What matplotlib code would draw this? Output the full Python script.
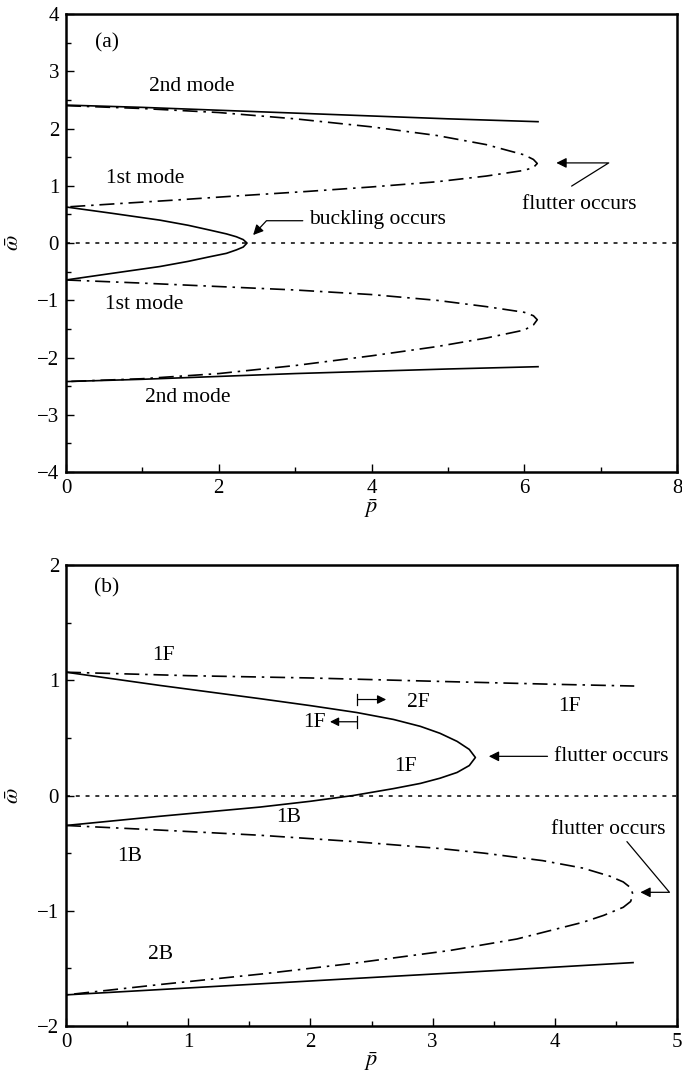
import numpy as np
import matplotlib.pyplot as plt
from matplotlib.ticker import MultipleLocator

plt.rcParams['font.family'] = ['Liberation Serif', 'DejaVu Serif']
plt.rcParams['mathtext.fontset'] = 'stix'

# ---- panel (a): frequency vs load ----
a_mode2_up_p = [0.0, 1.0, 2.0, 3.0, 4.0, 5.0, 6.18]
a_mode2_up_w = [2.41, 2.37, 2.32, 2.27, 2.22, 2.17, 2.12]

a_flut_up_p = [0.0, 1.0, 2.0, 3.0, 4.0, 4.85, 5.5, 6.0, 6.12, 6.17,
               6.12, 6.0, 5.5, 4.85, 4.0, 3.14, 2.2, 1.42, 0.7, 0.0]
a_flut_up_w = [2.40, 2.35, 2.28, 2.17, 2.03, 1.88, 1.72, 1.54, 1.46, 1.39,
               1.32, 1.27, 1.17, 1.07, 0.98, 0.90, 0.82, 0.75, 0.69, 0.63]

a_buck_p = [0.0, 0.6, 1.23, 1.6, 1.88, 2.1, 2.23, 2.32, 2.37,
            2.32, 2.23, 2.1, 1.88, 1.6, 1.23, 0.6, 0.0]
a_buck_w = [0.63, 0.52, 0.40, 0.31, 0.227, 0.16, 0.11, 0.06, 0.0,
            -0.07, -0.12, -0.18, -0.24, -0.32, -0.41, -0.53, -0.645]

a_flut_lo_p = [0.0, 1.0, 2.0, 3.0, 4.0, 4.85, 5.5, 6.0, 6.12, 6.17,
               6.12, 6.0, 5.5, 4.85, 4.0, 3.0, 2.0, 1.0, 0.0]
a_flut_lo_w = [-0.645, -0.70, -0.76, -0.82, -0.90, -1.00, -1.11, -1.21, -1.27, -1.34,
               -1.43, -1.52, -1.66, -1.81, -1.97, -2.14, -2.28, -2.37, -2.42]

a_mode2_lo_p = [0.0, 1.0, 2.0, 3.0, 4.0, 5.0, 6.18]
a_mode2_lo_w = [-2.42, -2.38, -2.33, -2.28, -2.24, -2.20, -2.16]

# ---- panel (b) ----
b_flut_up_p = [0.0, 1.0, 2.0, 3.06, 4.0, 4.65]
b_flut_up_w = [1.07, 1.04, 1.02, 0.99, 0.965, 0.95]

b_loop_p = [0.0, 0.77, 1.59, 2.0, 2.38, 2.68, 2.9, 3.06, 3.2, 3.3, 3.35,
            3.3, 3.2, 3.06, 2.9, 2.68, 2.35, 2.0, 1.59, 0.77, 0.0]
b_loop_w = [1.07, 0.955, 0.84, 0.78, 0.72, 0.66, 0.60, 0.54, 0.47, 0.40, 0.33,
            0.26, 0.20, 0.15, 0.105, 0.06, 0.0, -0.05, -0.10, -0.18, -0.26]

b_flut_lo_p = [0.0, 0.77, 1.59, 2.32, 3.06, 3.42, 3.9, 4.23, 4.45, 4.56, 4.62, 4.64,
               4.62, 4.56, 4.4, 4.23, 3.69, 3.14, 2.32, 1.59, 0.77, 0.0]
b_flut_lo_w = [-0.26, -0.30, -0.345, -0.397, -0.46, -0.50, -0.565, -0.63, -0.70, -0.75, -0.80, -0.86,
               -0.92, -0.97, -1.04, -1.10, -1.245, -1.345, -1.46, -1.55, -1.64, -1.73]

b_mode2_p = [0.0, 1.0, 2.32, 3.5, 4.64]
b_mode2_w = [-1.73, -1.67, -1.59, -1.52, -1.45]

DASHDOT = (0, (9, 3.5, 1.5, 3.5))
DOTTED = (0, (2.6, 3.8))
FS = 15.5
LW = 1.2
ARROW = dict(arrowstyle='-|>', color='k', lw=0.9, mutation_scale=15,
             shrinkA=0, shrinkB=0)


def style_axes(ax, xmax, xmaj, xmin, ymin, ymax, ymaj, yminor):
    ax.set_xlim(0, xmax)
    ax.set_ylim(ymin, ymax)
    ax.xaxis.set_major_locator(MultipleLocator(xmaj))
    ax.xaxis.set_minor_locator(MultipleLocator(xmin))
    ax.yaxis.set_major_locator(MultipleLocator(ymaj))
    ax.yaxis.set_minor_locator(MultipleLocator(yminor))
    ax.tick_params(which='both', direction='in', top=False, right=False,
                   labelsize=15, width=1.0)
    ax.tick_params(which='major', length=6, pad=5)
    ax.tick_params(which='minor', length=3.5)
    for s in ax.spines.values():
        s.set_linewidth(1.8)
    ax.set_xlabel(r'$\bar{p}$', fontsize=16, labelpad=-1)
    ax.set_ylabel(r'$\bar{\omega}$', fontsize=16, labelpad=9)
    ax.axhline(0, color='k', lw=1.1, ls=DOTTED)


def bracket_arrow(ax, x0, x1, y, half=0.05):
    # short vertical stop at x0 with an arrow running to x1
    ax.annotate('', xy=(x1, y), xytext=(x0, y), arrowprops=dict(ARROW, mutation_scale=13))
    ax.plot([x0, x0], [y - half, y + half], color='k', lw=0.9)


fig = plt.figure(figsize=(6.82, 10.74), dpi=100)
ax1 = fig.add_axes([0.0968, 0.5605, 0.8959, 0.4264])
ax2 = fig.add_axes([0.0968, 0.0447, 0.8959, 0.4292])

style_axes(ax1, 8, 2, 1, -4, 4, 1, 0.5)
ax1.plot(a_mode2_up_p, a_mode2_up_w, 'k-', lw=LW)
ax1.plot(a_flut_up_p, a_flut_up_w, color='k', lw=LW, ls=DASHDOT)
ax1.plot(a_buck_p, a_buck_w, 'k-', lw=LW)
ax1.plot(a_flut_lo_p, a_flut_lo_w, color='k', lw=LW, ls=DASHDOT)
ax1.plot(a_mode2_lo_p, a_mode2_lo_w, 'k-', lw=LW)

ax1.text(0.54, 3.49, '(a)', fontsize=FS, ha='center', va='center')
ax1.text(1.65, 2.73, '2nd mode', fontsize=FS, ha='center', va='center')
ax1.text(1.04, 1.12, '1st mode', fontsize=FS, ha='center', va='center')
ax1.text(1.02, -1.08, '1st mode', fontsize=FS, ha='center', va='center')
ax1.text(1.59, -2.69, '2nd mode', fontsize=FS, ha='center', va='center')
ax1.text(4.08, 0.42, 'buckling occurs', fontsize=FS, ha='center', va='center')
ax1.annotate('', xy=(2.45, 0.14), xytext=(3.10, 0.39),
             arrowprops=dict(ARROW, connectionstyle='angle,angleA=180,angleB=47,rad=0'))
ax1.text(6.72, 0.67, 'flutter occurs', fontsize=FS, ha='center', va='center')
ax1.annotate('', xy=(6.42, 1.40), xytext=(6.62, 0.995),
             arrowprops=dict(ARROW, connectionstyle='angle,angleA=32,angleB=0,rad=0'))

style_axes(ax2, 5, 1, 0.5, -2, 2, 1, 0.5)
ax2.plot(b_flut_up_p, b_flut_up_w, color='k', lw=LW, ls=DASHDOT)
ax2.plot(b_loop_p, b_loop_w, 'k-', lw=LW)
ax2.plot(b_flut_lo_p, b_flut_lo_w, color='k', lw=LW, ls=DASHDOT)
ax2.plot(b_mode2_p, b_mode2_w, 'k-', lw=LW)

ax2.text(0.335, 1.80, '(b)', fontsize=FS, ha='center', va='center')
ax2.text(0.80, 1.215, '1F', fontsize=FS, ha='center', va='center')
ax2.text(2.88, 0.807, '2F', fontsize=FS, ha='center', va='center')
ax2.text(4.12, 0.77, '1F', fontsize=FS, ha='center', va='center')
ax2.text(2.03, 0.633, '1F', fontsize=FS, ha='center', va='center')
ax2.text(2.78, 0.25, '1F', fontsize=FS, ha='center', va='center')
ax2.text(1.82, -0.19, '1B', fontsize=FS, ha='center', va='center')
ax2.text(0.52, -0.53, '1B', fontsize=FS, ha='center', va='center')
ax2.text(0.77, -1.38, '2B', fontsize=FS, ha='center', va='center')

# markers for the 1F / 2F switch on the upper branch
bracket_arrow(ax2, 2.385, 2.62, 0.833)
bracket_arrow(ax2, 2.385, 2.16, 0.64)

ax2.text(4.46, 0.34, 'flutter occurs', fontsize=FS, ha='center', va='center')
ax2.annotate('', xy=(3.46, 0.34), xytext=(3.94, 0.34), arrowprops=ARROW)
ax2.text(4.44, -0.295, 'flutter occurs', fontsize=FS, ha='center', va='center')
ax2.annotate('', xy=(4.70, -0.84), xytext=(4.59, -0.40),
             arrowprops=dict(ARROW, connectionstyle='angle,angleA=-50,angleB=0,rad=0'))

fig.savefig('out.png', dpi=100)
